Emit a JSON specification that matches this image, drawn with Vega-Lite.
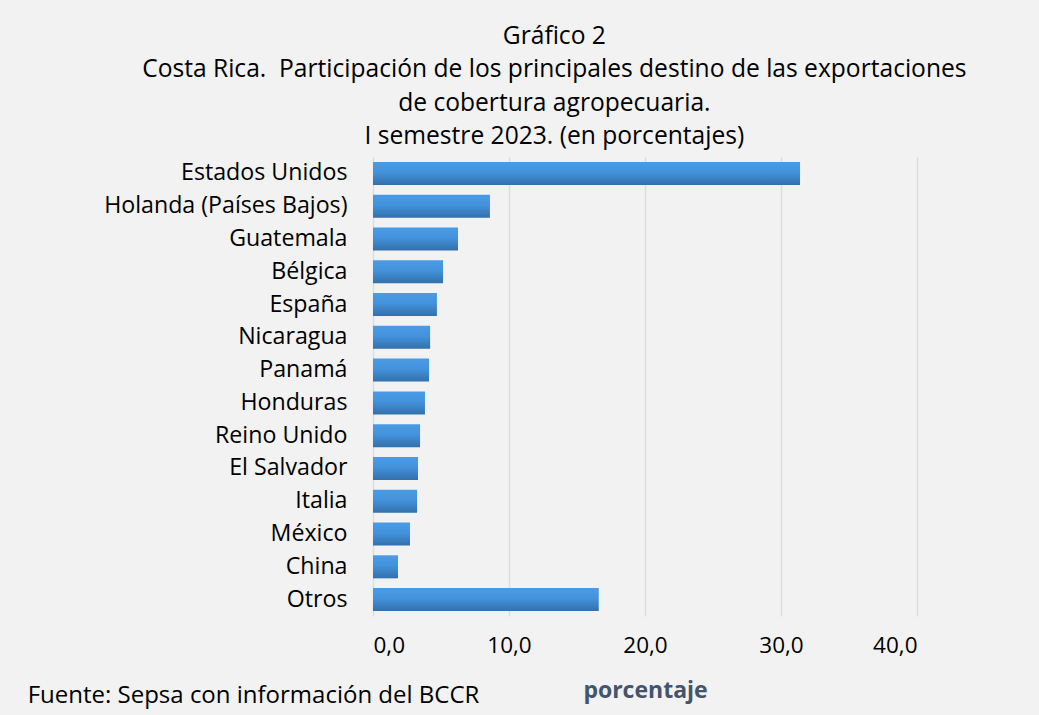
{
  "$schema": "https://vega.github.io/schema/vega-lite/v6.json",
  "background": "#f2f2f2",
  "padding": {"left": 27, "top": 23, "right": 96, "bottom": 9},
  "title": {
    "text": ["Gráfico 2", "Costa Rica.\u00a0 Participación de los principales destino de las exportaciones", "de cobertura agropecuaria.", "I semestre 2023. (en porcentajes)"],
    "font": "Open Sans",
    "fontSize": 24.6,
    "fontWeight": "normal",
    "color": "#000000",
    "lineHeight": 33.5,
    "anchor": "middle",
    "dx": 82,
    "offset": 7
  },
  "vconcat": [
    {
      "width": 544,
      "height": 459,
      "data": {
        "values": [
          {"pais": "Estados Unidos", "valor": 31.4},
          {"pais": "Holanda (Países Bajos)", "valor": 8.6},
          {"pais": "Guatemala", "valor": 6.25},
          {"pais": "Bélgica", "valor": 5.15},
          {"pais": "España", "valor": 4.7},
          {"pais": "Nicaragua", "valor": 4.2},
          {"pais": "Panamá", "valor": 4.12},
          {"pais": "Honduras", "valor": 3.82},
          {"pais": "Reino Unido", "valor": 3.46},
          {"pais": "El Salvador", "valor": 3.31},
          {"pais": "Italia", "valor": 3.24},
          {"pais": "México", "valor": 2.72},
          {"pais": "China", "valor": 1.84},
          {"pais": "Otros", "valor": 16.6}
        ]
      },
      "title": {
        "text": "Fuente: Sepsa con información del BCCR",
        "orient": "bottom",
        "anchor": "start",
        "frame": "bounds",
        "font": "Open Sans",
        "fontSize": 24,
        "fontWeight": "normal",
        "color": "#000000",
        "offset": -19,
        "dx": -76
      },
      "mark": {
        "type": "bar",
        "color": {
          "gradient": "linear",
          "x1": 0, "y1": 0, "x2": 0, "y2": 1,
          "stops": [
            {"offset": 0, "color": "#4a9be6"},
            {"offset": 0.45, "color": "#4392dc"},
            {"offset": 1, "color": "#3370ab"}
          ]
        }
      },
      "encoding": {
        "y": {
          "field": "pais",
          "type": "nominal",
          "sort": null,
          "scale": {"paddingInner": 0.298, "paddingOuter": 0.149},
          "axis": {
            "title": null,
            "domain": false,
            "ticks": false,
            "grid": false,
            "labelFont": "Open Sans",
            "labelFontSize": 23.2,
            "labelColor": "#000000",
            "labelPadding": 26,
            "labelLimit": 0
          }
        },
        "x": {
          "field": "valor",
          "type": "quantitative",
          "scale": {"domain": [0, 40], "nice": false},
          "axis": {
            "title": "porcentaje",
            "titleFont": "Open Sans",
            "titleFontSize": 23,
            "titleFontWeight": "bold",
            "titleColor": "#44546a",
            "titlePadding": 23,
            "values": [0, 10, 20, 30, 40],
            "labelExpr": "replace(format(datum.value, '.1f'), '.', ',')",
            "labelFont": "Open Sans",
            "labelFontSize": 22.5,
            "labelColor": "#000000",
            "labelPadding": 18,
            "domain": false,
            "ticks": false,
            "grid": true,
            "gridColor": "#d9dee5",
            "gridWidth": 1.5
          }
        }
      }
    }
  ],
  "config": {
    "view": {"stroke": null}
  }
}
